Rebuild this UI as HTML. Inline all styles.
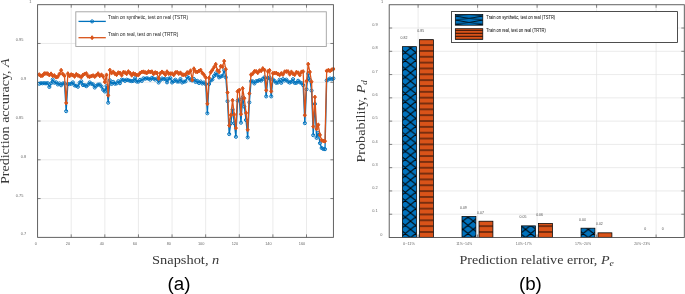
<!DOCTYPE html>
<html><head><meta charset="utf-8"><style>
html,body{margin:0;padding:0;background:#fff;width:685px;height:294px;overflow:hidden}
svg{display:block;will-change:transform}
</style></head><body>
<svg width="685" height="294" viewBox="0 0 685 294">
<g stroke="#e2e2e2" stroke-width="0.7" fill="none"><line x1="71.21" y1="4.7" x2="71.21" y2="237.35"/><line x1="104.83" y1="4.7" x2="104.83" y2="237.35"/><line x1="138.44" y1="4.7" x2="138.44" y2="237.35"/><line x1="172.05" y1="4.7" x2="172.05" y2="237.35"/><line x1="205.67" y1="4.7" x2="205.67" y2="237.35"/><line x1="239.28" y1="4.7" x2="239.28" y2="237.35"/><line x1="272.9" y1="4.7" x2="272.9" y2="237.35"/><line x1="306.51" y1="4.7" x2="306.51" y2="237.35"/><line x1="37.6" y1="198.57" x2="333.4" y2="198.57"/><line x1="37.6" y1="159.8" x2="333.4" y2="159.8"/><line x1="37.6" y1="121.02" x2="333.4" y2="121.02"/><line x1="37.6" y1="82.25" x2="333.4" y2="82.25"/><line x1="37.6" y1="43.47" x2="333.4" y2="43.47"/></g><g stroke="#505050" stroke-width="0.7"><line x1="71.21" y1="237.35" x2="71.21" y2="234.35"/><line x1="71.21" y1="4.7" x2="71.21" y2="7.7"/><line x1="104.83" y1="237.35" x2="104.83" y2="234.35"/><line x1="104.83" y1="4.7" x2="104.83" y2="7.7"/><line x1="138.44" y1="237.35" x2="138.44" y2="234.35"/><line x1="138.44" y1="4.7" x2="138.44" y2="7.7"/><line x1="172.05" y1="237.35" x2="172.05" y2="234.35"/><line x1="172.05" y1="4.7" x2="172.05" y2="7.7"/><line x1="205.67" y1="237.35" x2="205.67" y2="234.35"/><line x1="205.67" y1="4.7" x2="205.67" y2="7.7"/><line x1="239.28" y1="237.35" x2="239.28" y2="234.35"/><line x1="239.28" y1="4.7" x2="239.28" y2="7.7"/><line x1="272.9" y1="237.35" x2="272.9" y2="234.35"/><line x1="272.9" y1="4.7" x2="272.9" y2="7.7"/><line x1="306.51" y1="237.35" x2="306.51" y2="234.35"/><line x1="306.51" y1="4.7" x2="306.51" y2="7.7"/><line x1="37.6" y1="198.57" x2="40.6" y2="198.57"/><line x1="333.4" y1="198.57" x2="330.4" y2="198.57"/><line x1="37.6" y1="159.8" x2="40.6" y2="159.8"/><line x1="333.4" y1="159.8" x2="330.4" y2="159.8"/><line x1="37.6" y1="121.02" x2="40.6" y2="121.02"/><line x1="333.4" y1="121.02" x2="330.4" y2="121.02"/><line x1="37.6" y1="82.25" x2="40.6" y2="82.25"/><line x1="333.4" y1="82.25" x2="330.4" y2="82.25"/><line x1="37.6" y1="43.47" x2="40.6" y2="43.47"/><line x1="333.4" y1="43.47" x2="330.4" y2="43.47"/></g><polyline points="39.28,83.79 40.96,83.23 42.64,83.32 44.32,83.14 46,83.38 47.68,83.11 49.36,86.98 51.05,83.29 52.73,79.5 54.41,82.77 56.09,82.31 57.77,84.46 59.45,83.37 61.13,85.3 62.81,83.48 64.49,83.19 66.17,111.2 67.85,84.1 69.53,84.14 71.21,83.68 72.89,82.38 74.57,85.42 76.26,85.8 77.94,86.77 79.62,82.77 81.3,81.34 82.98,85.05 84.66,85.1 86.34,86.2 88.02,84.7 89.7,82.38 91.38,83.79 93.06,84.4 94.74,87.53 96.42,85.72 98.1,84.59 99.79,84.5 101.47,86.5 103.15,89.8 104.83,91.5 106.51,86 108.19,102.7 109.87,80.3 111.55,84.01 113.23,81.9 114.91,83.72 116.59,83.46 118.27,81.23 119.95,83.22 121.63,79.67 123.31,79.88 125,80.87 126.68,79.68 128.36,80.23 130.04,80.74 131.72,81.18 133.4,80.84 135.08,78.25 136.76,81.59 138.44,81.67 140.12,79.84 141.8,80.92 143.48,78.31 145.16,78.75 146.84,78.24 148.52,78.7 150.21,79.67 151.89,77.8 153.57,78.68 155.25,79.6 156.93,78.57 158.61,82.57 160.29,80.23 161.97,78.47 163.65,79.22 165.33,78.74 167.01,82.37 168.69,78.67 170.37,78.12 172.05,82.5 173.74,81.2 175.42,79.69 177.1,81.55 178.78,81.58 180.46,79.03 182.14,82.53 183.82,81.71 185.5,81.4 187.18,76.9 188.86,78.13 190.54,79.99 192.22,80.5 193.9,79 195.58,82 197.26,80.8 198.95,83 200.63,81.5 202.31,83.5 203.99,82.5 205.67,84.2 207.35,113.3 209.03,84 210.71,80.5 212.39,79.5 214.07,76 215.75,73.3 217.43,74.9 219.11,77.4 220.79,76.5 222.47,75.9 224.16,70.3 225.84,77.4 227.52,101.2 229.2,134.1 230.88,123.2 232.56,109.5 234.24,123.2 235.92,136.8 237.6,100.7 239.28,99.5 240.96,122.7 242.64,97.3 244.32,106.7 246,120 247.69,137.4 249.37,102.4 251.05,81.29 252.73,81.34 254.41,83.48 256.09,81.28 257.77,80.96 259.45,80.08 261.13,80.61 262.81,78.88 264.49,77.3 266.17,96.4 267.85,78 269.53,77.5 271.21,96.4 272.9,79.5 274.58,80.95 276.26,82.83 277.94,82.53 279.62,79.69 281.3,82.84 282.98,79.13 284.66,80.53 286.34,79.61 288.02,81.58 289.7,82.63 291.38,81.79 293.06,79.16 294.74,82.95 296.42,82.88 298.11,80.74 299.79,82.33 301.47,83 303.15,85.2 304.83,123.2 306.51,89.3 308.19,73.6 309.87,80 311.55,90.6 313.23,135.2 314.91,103.9 316.59,137.9 318.27,133 319.95,143.2 321.64,148 323.32,149 325,149.2 326.68,80.4 328.36,79.5 330.04,78.5 331.72,79.2 333.4,78.4" fill="none" stroke="#0072BD" stroke-width="1.3" stroke-linejoin="round"/><g fill="none" stroke="#0072BD" stroke-width="1.0"><circle cx="39.28" cy="83.79" r="1.55"/><circle cx="40.96" cy="83.23" r="1.55"/><circle cx="42.64" cy="83.32" r="1.55"/><circle cx="44.32" cy="83.14" r="1.55"/><circle cx="46" cy="83.38" r="1.55"/><circle cx="47.68" cy="83.11" r="1.55"/><circle cx="49.36" cy="86.98" r="1.55"/><circle cx="51.05" cy="83.29" r="1.55"/><circle cx="52.73" cy="79.5" r="1.55"/><circle cx="54.41" cy="82.77" r="1.55"/><circle cx="56.09" cy="82.31" r="1.55"/><circle cx="57.77" cy="84.46" r="1.55"/><circle cx="59.45" cy="83.37" r="1.55"/><circle cx="61.13" cy="85.3" r="1.55"/><circle cx="62.81" cy="83.48" r="1.55"/><circle cx="64.49" cy="83.19" r="1.55"/><circle cx="66.17" cy="111.2" r="1.55"/><circle cx="67.85" cy="84.1" r="1.55"/><circle cx="69.53" cy="84.14" r="1.55"/><circle cx="71.21" cy="83.68" r="1.55"/><circle cx="72.89" cy="82.38" r="1.55"/><circle cx="74.57" cy="85.42" r="1.55"/><circle cx="76.26" cy="85.8" r="1.55"/><circle cx="77.94" cy="86.77" r="1.55"/><circle cx="79.62" cy="82.77" r="1.55"/><circle cx="81.3" cy="81.34" r="1.55"/><circle cx="82.98" cy="85.05" r="1.55"/><circle cx="84.66" cy="85.1" r="1.55"/><circle cx="86.34" cy="86.2" r="1.55"/><circle cx="88.02" cy="84.7" r="1.55"/><circle cx="89.7" cy="82.38" r="1.55"/><circle cx="91.38" cy="83.79" r="1.55"/><circle cx="93.06" cy="84.4" r="1.55"/><circle cx="94.74" cy="87.53" r="1.55"/><circle cx="96.42" cy="85.72" r="1.55"/><circle cx="98.1" cy="84.59" r="1.55"/><circle cx="99.79" cy="84.5" r="1.55"/><circle cx="101.47" cy="86.5" r="1.55"/><circle cx="103.15" cy="89.8" r="1.55"/><circle cx="104.83" cy="91.5" r="1.55"/><circle cx="106.51" cy="86" r="1.55"/><circle cx="108.19" cy="102.7" r="1.55"/><circle cx="109.87" cy="80.3" r="1.55"/><circle cx="111.55" cy="84.01" r="1.55"/><circle cx="113.23" cy="81.9" r="1.55"/><circle cx="114.91" cy="83.72" r="1.55"/><circle cx="116.59" cy="83.46" r="1.55"/><circle cx="118.27" cy="81.23" r="1.55"/><circle cx="119.95" cy="83.22" r="1.55"/><circle cx="121.63" cy="79.67" r="1.55"/><circle cx="123.31" cy="79.88" r="1.55"/><circle cx="125" cy="80.87" r="1.55"/><circle cx="126.68" cy="79.68" r="1.55"/><circle cx="128.36" cy="80.23" r="1.55"/><circle cx="130.04" cy="80.74" r="1.55"/><circle cx="131.72" cy="81.18" r="1.55"/><circle cx="133.4" cy="80.84" r="1.55"/><circle cx="135.08" cy="78.25" r="1.55"/><circle cx="136.76" cy="81.59" r="1.55"/><circle cx="138.44" cy="81.67" r="1.55"/><circle cx="140.12" cy="79.84" r="1.55"/><circle cx="141.8" cy="80.92" r="1.55"/><circle cx="143.48" cy="78.31" r="1.55"/><circle cx="145.16" cy="78.75" r="1.55"/><circle cx="146.84" cy="78.24" r="1.55"/><circle cx="148.52" cy="78.7" r="1.55"/><circle cx="150.21" cy="79.67" r="1.55"/><circle cx="151.89" cy="77.8" r="1.55"/><circle cx="153.57" cy="78.68" r="1.55"/><circle cx="155.25" cy="79.6" r="1.55"/><circle cx="156.93" cy="78.57" r="1.55"/><circle cx="158.61" cy="82.57" r="1.55"/><circle cx="160.29" cy="80.23" r="1.55"/><circle cx="161.97" cy="78.47" r="1.55"/><circle cx="163.65" cy="79.22" r="1.55"/><circle cx="165.33" cy="78.74" r="1.55"/><circle cx="167.01" cy="82.37" r="1.55"/><circle cx="168.69" cy="78.67" r="1.55"/><circle cx="170.37" cy="78.12" r="1.55"/><circle cx="172.05" cy="82.5" r="1.55"/><circle cx="173.74" cy="81.2" r="1.55"/><circle cx="175.42" cy="79.69" r="1.55"/><circle cx="177.1" cy="81.55" r="1.55"/><circle cx="178.78" cy="81.58" r="1.55"/><circle cx="180.46" cy="79.03" r="1.55"/><circle cx="182.14" cy="82.53" r="1.55"/><circle cx="183.82" cy="81.71" r="1.55"/><circle cx="185.5" cy="81.4" r="1.55"/><circle cx="187.18" cy="76.9" r="1.55"/><circle cx="188.86" cy="78.13" r="1.55"/><circle cx="190.54" cy="79.99" r="1.55"/><circle cx="192.22" cy="80.5" r="1.55"/><circle cx="193.9" cy="79" r="1.55"/><circle cx="195.58" cy="82" r="1.55"/><circle cx="197.26" cy="80.8" r="1.55"/><circle cx="198.95" cy="83" r="1.55"/><circle cx="200.63" cy="81.5" r="1.55"/><circle cx="202.31" cy="83.5" r="1.55"/><circle cx="203.99" cy="82.5" r="1.55"/><circle cx="205.67" cy="84.2" r="1.55"/><circle cx="207.35" cy="113.3" r="1.55"/><circle cx="209.03" cy="84" r="1.55"/><circle cx="210.71" cy="80.5" r="1.55"/><circle cx="212.39" cy="79.5" r="1.55"/><circle cx="214.07" cy="76" r="1.55"/><circle cx="215.75" cy="73.3" r="1.55"/><circle cx="217.43" cy="74.9" r="1.55"/><circle cx="219.11" cy="77.4" r="1.55"/><circle cx="220.79" cy="76.5" r="1.55"/><circle cx="222.47" cy="75.9" r="1.55"/><circle cx="224.16" cy="70.3" r="1.55"/><circle cx="225.84" cy="77.4" r="1.55"/><circle cx="227.52" cy="101.2" r="1.55"/><circle cx="229.2" cy="134.1" r="1.55"/><circle cx="230.88" cy="123.2" r="1.55"/><circle cx="232.56" cy="109.5" r="1.55"/><circle cx="234.24" cy="123.2" r="1.55"/><circle cx="235.92" cy="136.8" r="1.55"/><circle cx="237.6" cy="100.7" r="1.55"/><circle cx="239.28" cy="99.5" r="1.55"/><circle cx="240.96" cy="122.7" r="1.55"/><circle cx="242.64" cy="97.3" r="1.55"/><circle cx="244.32" cy="106.7" r="1.55"/><circle cx="246" cy="120" r="1.55"/><circle cx="247.69" cy="137.4" r="1.55"/><circle cx="249.37" cy="102.4" r="1.55"/><circle cx="251.05" cy="81.29" r="1.55"/><circle cx="252.73" cy="81.34" r="1.55"/><circle cx="254.41" cy="83.48" r="1.55"/><circle cx="256.09" cy="81.28" r="1.55"/><circle cx="257.77" cy="80.96" r="1.55"/><circle cx="259.45" cy="80.08" r="1.55"/><circle cx="261.13" cy="80.61" r="1.55"/><circle cx="262.81" cy="78.88" r="1.55"/><circle cx="264.49" cy="77.3" r="1.55"/><circle cx="266.17" cy="96.4" r="1.55"/><circle cx="267.85" cy="78" r="1.55"/><circle cx="269.53" cy="77.5" r="1.55"/><circle cx="271.21" cy="96.4" r="1.55"/><circle cx="272.9" cy="79.5" r="1.55"/><circle cx="274.58" cy="80.95" r="1.55"/><circle cx="276.26" cy="82.83" r="1.55"/><circle cx="277.94" cy="82.53" r="1.55"/><circle cx="279.62" cy="79.69" r="1.55"/><circle cx="281.3" cy="82.84" r="1.55"/><circle cx="282.98" cy="79.13" r="1.55"/><circle cx="284.66" cy="80.53" r="1.55"/><circle cx="286.34" cy="79.61" r="1.55"/><circle cx="288.02" cy="81.58" r="1.55"/><circle cx="289.7" cy="82.63" r="1.55"/><circle cx="291.38" cy="81.79" r="1.55"/><circle cx="293.06" cy="79.16" r="1.55"/><circle cx="294.74" cy="82.95" r="1.55"/><circle cx="296.42" cy="82.88" r="1.55"/><circle cx="298.11" cy="80.74" r="1.55"/><circle cx="299.79" cy="82.33" r="1.55"/><circle cx="301.47" cy="83" r="1.55"/><circle cx="303.15" cy="85.2" r="1.55"/><circle cx="304.83" cy="123.2" r="1.55"/><circle cx="306.51" cy="89.3" r="1.55"/><circle cx="308.19" cy="73.6" r="1.55"/><circle cx="309.87" cy="80" r="1.55"/><circle cx="311.55" cy="90.6" r="1.55"/><circle cx="313.23" cy="135.2" r="1.55"/><circle cx="314.91" cy="103.9" r="1.55"/><circle cx="316.59" cy="137.9" r="1.55"/><circle cx="318.27" cy="133" r="1.55"/><circle cx="319.95" cy="143.2" r="1.55"/><circle cx="321.64" cy="148" r="1.55"/><circle cx="323.32" cy="149" r="1.55"/><circle cx="325" cy="149.2" r="1.55"/><circle cx="326.68" cy="80.4" r="1.55"/><circle cx="328.36" cy="79.5" r="1.55"/><circle cx="330.04" cy="78.5" r="1.55"/><circle cx="331.72" cy="79.2" r="1.55"/><circle cx="333.4" cy="78.4" r="1.55"/></g><polyline points="39.28,74.63 40.96,75.87 42.64,75.44 44.32,73.62 46,73.54 47.68,73.67 49.36,75.01 51.05,73.87 52.73,75.78 54.41,75.59 56.09,77.11 57.77,76.66 59.45,73.95 61.13,70.2 62.81,74.09 64.49,75.83 66.17,102.9 67.85,73.63 69.53,75.99 71.21,74.59 72.89,75.12 74.57,76.42 76.26,74.33 77.94,75.4 79.62,76.17 81.3,77.12 82.98,74.99 84.66,73.98 86.34,73.55 88.02,76.31 89.7,76.73 91.38,76.04 93.06,75.6 94.74,76.59 96.42,75.2 98.1,73.63 99.79,75.86 101.47,74.8 103.15,76.5 104.83,82 106.51,74.9 108.19,95.3 109.87,70.1 111.55,73.09 113.23,71.91 114.91,73.69 116.59,74.71 118.27,72.66 119.95,72.96 121.63,75.24 123.31,72.27 125,72.49 126.68,73.84 128.36,71.62 130.04,73 131.72,75.22 133.4,73.56 135.08,74.17 136.76,75.02 138.44,74.92 140.12,73.09 141.8,71.99 143.48,71.84 145.16,72.39 146.84,72.89 148.52,71.6 150.21,71.99 151.89,71.7 153.57,73.93 155.25,72.56 156.93,72.98 158.61,78.5 160.29,73.37 161.97,71.93 163.65,72.9 165.33,74.75 167.01,71.69 168.69,73.61 170.37,73.66 172.05,73.61 173.74,74.88 175.42,72.59 177.1,72.23 178.78,73.62 180.46,72.85 182.14,74.68 183.82,74.84 185.5,74.71 187.18,72.46 188.86,72.95 190.54,70.71 192.22,80 193.9,68.7 195.58,71.5 197.26,72 198.95,71 200.63,70 202.31,73 203.99,74.8 205.67,77.4 207.35,103.8 209.03,77.9 210.71,72.3 212.39,70 214.07,67.2 215.75,64.2 217.43,70.3 219.11,71.8 220.79,66.2 222.47,66.7 224.16,61.1 225.84,69.3 227.52,92.5 229.2,125.4 230.88,115.1 232.56,100.3 234.24,114.5 235.92,128.1 237.6,91.4 239.28,90.1 240.96,114.2 242.64,88.4 244.32,98.2 246,112.9 247.69,129.8 249.37,93.5 251.05,74.64 252.73,73.67 254.41,71.36 256.09,71.35 257.77,72.81 259.45,70.64 261.13,70.86 262.81,68.5 264.49,70 266.17,90.3 267.85,71.5 269.53,70.3 271.21,91.3 272.9,73.3 274.58,73.02 276.26,73.12 277.94,73.96 279.62,74.88 281.3,73.43 282.98,74.49 284.66,71.76 286.34,71.58 288.02,71.58 289.7,74.28 291.38,71.89 293.06,73.81 294.74,74.65 296.42,72.13 298.11,72.81 299.79,75.06 301.47,71.91 303.15,71.6 304.83,115.2 306.51,81.1 308.19,64.1 309.87,72 311.55,81.8 313.23,126.5 314.91,97.1 316.59,128.9 318.27,124.8 319.95,134.9 321.64,140.2 323.32,141 325,141.2 326.68,70.9 328.36,70.2 330.04,70.8 331.72,69.8 333.4,69" fill="none" stroke="#D95319" stroke-width="1.3" stroke-linejoin="round"/><g fill="#D95319" stroke="#D95319" stroke-width="1.0"><path d="M39.28 72.63L40.83 74.63L39.28 76.63L37.73 74.63Z"/><path d="M40.96 73.87L42.51 75.87L40.96 77.87L39.41 75.87Z"/><path d="M42.64 73.44L44.19 75.44L42.64 77.44L41.09 75.44Z"/><path d="M44.32 71.62L45.87 73.62L44.32 75.62L42.77 73.62Z"/><path d="M46 71.54L47.55 73.54L46 75.54L44.45 73.54Z"/><path d="M47.68 71.67L49.23 73.67L47.68 75.67L46.13 73.67Z"/><path d="M49.36 73.01L50.91 75.01L49.36 77.01L47.81 75.01Z"/><path d="M51.05 71.87L52.6 73.87L51.05 75.87L49.5 73.87Z"/><path d="M52.73 73.78L54.28 75.78L52.73 77.78L51.18 75.78Z"/><path d="M54.41 73.59L55.96 75.59L54.41 77.59L52.86 75.59Z"/><path d="M56.09 75.11L57.64 77.11L56.09 79.11L54.54 77.11Z"/><path d="M57.77 74.66L59.32 76.66L57.77 78.66L56.22 76.66Z"/><path d="M59.45 71.95L61 73.95L59.45 75.95L57.9 73.95Z"/><path d="M61.13 68.2L62.68 70.2L61.13 72.2L59.58 70.2Z"/><path d="M62.81 72.09L64.36 74.09L62.81 76.09L61.26 74.09Z"/><path d="M64.49 73.83L66.04 75.83L64.49 77.83L62.94 75.83Z"/><path d="M66.17 100.9L67.72 102.9L66.17 104.9L64.62 102.9Z"/><path d="M67.85 71.63L69.4 73.63L67.85 75.63L66.3 73.63Z"/><path d="M69.53 73.99L71.08 75.99L69.53 77.99L67.98 75.99Z"/><path d="M71.21 72.59L72.76 74.59L71.21 76.59L69.66 74.59Z"/><path d="M72.89 73.12L74.44 75.12L72.89 77.12L71.34 75.12Z"/><path d="M74.57 74.42L76.12 76.42L74.57 78.42L73.02 76.42Z"/><path d="M76.26 72.33L77.81 74.33L76.26 76.33L74.71 74.33Z"/><path d="M77.94 73.4L79.49 75.4L77.94 77.4L76.39 75.4Z"/><path d="M79.62 74.17L81.17 76.17L79.62 78.17L78.07 76.17Z"/><path d="M81.3 75.12L82.85 77.12L81.3 79.12L79.75 77.12Z"/><path d="M82.98 72.99L84.53 74.99L82.98 76.99L81.43 74.99Z"/><path d="M84.66 71.98L86.21 73.98L84.66 75.98L83.11 73.98Z"/><path d="M86.34 71.55L87.89 73.55L86.34 75.55L84.79 73.55Z"/><path d="M88.02 74.31L89.57 76.31L88.02 78.31L86.47 76.31Z"/><path d="M89.7 74.73L91.25 76.73L89.7 78.73L88.15 76.73Z"/><path d="M91.38 74.04L92.93 76.04L91.38 78.04L89.83 76.04Z"/><path d="M93.06 73.6L94.61 75.6L93.06 77.6L91.51 75.6Z"/><path d="M94.74 74.59L96.29 76.59L94.74 78.59L93.19 76.59Z"/><path d="M96.42 73.2L97.97 75.2L96.42 77.2L94.87 75.2Z"/><path d="M98.1 71.63L99.65 73.63L98.1 75.63L96.55 73.63Z"/><path d="M99.79 73.86L101.34 75.86L99.79 77.86L98.24 75.86Z"/><path d="M101.47 72.8L103.02 74.8L101.47 76.8L99.92 74.8Z"/><path d="M103.15 74.5L104.7 76.5L103.15 78.5L101.6 76.5Z"/><path d="M104.83 80L106.38 82L104.83 84L103.28 82Z"/><path d="M106.51 72.9L108.06 74.9L106.51 76.9L104.96 74.9Z"/><path d="M108.19 93.3L109.74 95.3L108.19 97.3L106.64 95.3Z"/><path d="M109.87 68.1L111.42 70.1L109.87 72.1L108.32 70.1Z"/><path d="M111.55 71.09L113.1 73.09L111.55 75.09L110 73.09Z"/><path d="M113.23 69.91L114.78 71.91L113.23 73.91L111.68 71.91Z"/><path d="M114.91 71.69L116.46 73.69L114.91 75.69L113.36 73.69Z"/><path d="M116.59 72.71L118.14 74.71L116.59 76.71L115.04 74.71Z"/><path d="M118.27 70.66L119.82 72.66L118.27 74.66L116.72 72.66Z"/><path d="M119.95 70.96L121.5 72.96L119.95 74.96L118.4 72.96Z"/><path d="M121.63 73.24L123.18 75.24L121.63 77.24L120.08 75.24Z"/><path d="M123.31 70.27L124.86 72.27L123.31 74.27L121.76 72.27Z"/><path d="M125 70.49L126.55 72.49L125 74.49L123.45 72.49Z"/><path d="M126.68 71.84L128.23 73.84L126.68 75.84L125.13 73.84Z"/><path d="M128.36 69.62L129.91 71.62L128.36 73.62L126.81 71.62Z"/><path d="M130.04 71L131.59 73L130.04 75L128.49 73Z"/><path d="M131.72 73.22L133.27 75.22L131.72 77.22L130.17 75.22Z"/><path d="M133.4 71.56L134.95 73.56L133.4 75.56L131.85 73.56Z"/><path d="M135.08 72.17L136.63 74.17L135.08 76.17L133.53 74.17Z"/><path d="M136.76 73.02L138.31 75.02L136.76 77.02L135.21 75.02Z"/><path d="M138.44 72.92L139.99 74.92L138.44 76.92L136.89 74.92Z"/><path d="M140.12 71.09L141.67 73.09L140.12 75.09L138.57 73.09Z"/><path d="M141.8 69.99L143.35 71.99L141.8 73.99L140.25 71.99Z"/><path d="M143.48 69.84L145.03 71.84L143.48 73.84L141.93 71.84Z"/><path d="M145.16 70.39L146.71 72.39L145.16 74.39L143.61 72.39Z"/><path d="M146.84 70.89L148.39 72.89L146.84 74.89L145.29 72.89Z"/><path d="M148.52 69.6L150.07 71.6L148.52 73.6L146.97 71.6Z"/><path d="M150.21 69.99L151.76 71.99L150.21 73.99L148.66 71.99Z"/><path d="M151.89 69.7L153.44 71.7L151.89 73.7L150.34 71.7Z"/><path d="M153.57 71.93L155.12 73.93L153.57 75.93L152.02 73.93Z"/><path d="M155.25 70.56L156.8 72.56L155.25 74.56L153.7 72.56Z"/><path d="M156.93 70.98L158.48 72.98L156.93 74.98L155.38 72.98Z"/><path d="M158.61 76.5L160.16 78.5L158.61 80.5L157.06 78.5Z"/><path d="M160.29 71.37L161.84 73.37L160.29 75.37L158.74 73.37Z"/><path d="M161.97 69.93L163.52 71.93L161.97 73.93L160.42 71.93Z"/><path d="M163.65 70.9L165.2 72.9L163.65 74.9L162.1 72.9Z"/><path d="M165.33 72.75L166.88 74.75L165.33 76.75L163.78 74.75Z"/><path d="M167.01 69.69L168.56 71.69L167.01 73.69L165.46 71.69Z"/><path d="M168.69 71.61L170.24 73.61L168.69 75.61L167.14 73.61Z"/><path d="M170.37 71.66L171.92 73.66L170.37 75.66L168.82 73.66Z"/><path d="M172.05 71.61L173.6 73.61L172.05 75.61L170.5 73.61Z"/><path d="M173.74 72.88L175.29 74.88L173.74 76.88L172.19 74.88Z"/><path d="M175.42 70.59L176.97 72.59L175.42 74.59L173.87 72.59Z"/><path d="M177.1 70.23L178.65 72.23L177.1 74.23L175.55 72.23Z"/><path d="M178.78 71.62L180.33 73.62L178.78 75.62L177.23 73.62Z"/><path d="M180.46 70.85L182.01 72.85L180.46 74.85L178.91 72.85Z"/><path d="M182.14 72.68L183.69 74.68L182.14 76.68L180.59 74.68Z"/><path d="M183.82 72.84L185.37 74.84L183.82 76.84L182.27 74.84Z"/><path d="M185.5 72.71L187.05 74.71L185.5 76.71L183.95 74.71Z"/><path d="M187.18 70.46L188.73 72.46L187.18 74.46L185.63 72.46Z"/><path d="M188.86 70.95L190.41 72.95L188.86 74.95L187.31 72.95Z"/><path d="M190.54 68.71L192.09 70.71L190.54 72.71L188.99 70.71Z"/><path d="M192.22 78L193.77 80L192.22 82L190.67 80Z"/><path d="M193.9 66.7L195.45 68.7L193.9 70.7L192.35 68.7Z"/><path d="M195.58 69.5L197.13 71.5L195.58 73.5L194.03 71.5Z"/><path d="M197.26 70L198.81 72L197.26 74L195.71 72Z"/><path d="M198.95 69L200.5 71L198.95 73L197.4 71Z"/><path d="M200.63 68L202.18 70L200.63 72L199.08 70Z"/><path d="M202.31 71L203.86 73L202.31 75L200.76 73Z"/><path d="M203.99 72.8L205.54 74.8L203.99 76.8L202.44 74.8Z"/><path d="M205.67 75.4L207.22 77.4L205.67 79.4L204.12 77.4Z"/><path d="M207.35 101.8L208.9 103.8L207.35 105.8L205.8 103.8Z"/><path d="M209.03 75.9L210.58 77.9L209.03 79.9L207.48 77.9Z"/><path d="M210.71 70.3L212.26 72.3L210.71 74.3L209.16 72.3Z"/><path d="M212.39 68L213.94 70L212.39 72L210.84 70Z"/><path d="M214.07 65.2L215.62 67.2L214.07 69.2L212.52 67.2Z"/><path d="M215.75 62.2L217.3 64.2L215.75 66.2L214.2 64.2Z"/><path d="M217.43 68.3L218.98 70.3L217.43 72.3L215.88 70.3Z"/><path d="M219.11 69.8L220.66 71.8L219.11 73.8L217.56 71.8Z"/><path d="M220.79 64.2L222.34 66.2L220.79 68.2L219.24 66.2Z"/><path d="M222.47 64.7L224.02 66.7L222.47 68.7L220.92 66.7Z"/><path d="M224.16 59.1L225.71 61.1L224.16 63.1L222.61 61.1Z"/><path d="M225.84 67.3L227.39 69.3L225.84 71.3L224.29 69.3Z"/><path d="M227.52 90.5L229.07 92.5L227.52 94.5L225.97 92.5Z"/><path d="M229.2 123.4L230.75 125.4L229.2 127.4L227.65 125.4Z"/><path d="M230.88 113.1L232.43 115.1L230.88 117.1L229.33 115.1Z"/><path d="M232.56 98.3L234.11 100.3L232.56 102.3L231.01 100.3Z"/><path d="M234.24 112.5L235.79 114.5L234.24 116.5L232.69 114.5Z"/><path d="M235.92 126.1L237.47 128.1L235.92 130.1L234.37 128.1Z"/><path d="M237.6 89.4L239.15 91.4L237.6 93.4L236.05 91.4Z"/><path d="M239.28 88.1L240.83 90.1L239.28 92.1L237.73 90.1Z"/><path d="M240.96 112.2L242.51 114.2L240.96 116.2L239.41 114.2Z"/><path d="M242.64 86.4L244.19 88.4L242.64 90.4L241.09 88.4Z"/><path d="M244.32 96.2L245.87 98.2L244.32 100.2L242.77 98.2Z"/><path d="M246 110.9L247.55 112.9L246 114.9L244.45 112.9Z"/><path d="M247.69 127.8L249.24 129.8L247.69 131.8L246.14 129.8Z"/><path d="M249.37 91.5L250.92 93.5L249.37 95.5L247.82 93.5Z"/><path d="M251.05 72.64L252.6 74.64L251.05 76.64L249.5 74.64Z"/><path d="M252.73 71.67L254.28 73.67L252.73 75.67L251.18 73.67Z"/><path d="M254.41 69.36L255.96 71.36L254.41 73.36L252.86 71.36Z"/><path d="M256.09 69.35L257.64 71.35L256.09 73.35L254.54 71.35Z"/><path d="M257.77 70.81L259.32 72.81L257.77 74.81L256.22 72.81Z"/><path d="M259.45 68.64L261 70.64L259.45 72.64L257.9 70.64Z"/><path d="M261.13 68.86L262.68 70.86L261.13 72.86L259.58 70.86Z"/><path d="M262.81 66.5L264.36 68.5L262.81 70.5L261.26 68.5Z"/><path d="M264.49 68L266.04 70L264.49 72L262.94 70Z"/><path d="M266.17 88.3L267.72 90.3L266.17 92.3L264.62 90.3Z"/><path d="M267.85 69.5L269.4 71.5L267.85 73.5L266.3 71.5Z"/><path d="M269.53 68.3L271.08 70.3L269.53 72.3L267.98 70.3Z"/><path d="M271.21 89.3L272.76 91.3L271.21 93.3L269.66 91.3Z"/><path d="M272.9 71.3L274.45 73.3L272.9 75.3L271.35 73.3Z"/><path d="M274.58 71.02L276.13 73.02L274.58 75.02L273.03 73.02Z"/><path d="M276.26 71.12L277.81 73.12L276.26 75.12L274.71 73.12Z"/><path d="M277.94 71.96L279.49 73.96L277.94 75.96L276.39 73.96Z"/><path d="M279.62 72.88L281.17 74.88L279.62 76.88L278.07 74.88Z"/><path d="M281.3 71.43L282.85 73.43L281.3 75.43L279.75 73.43Z"/><path d="M282.98 72.49L284.53 74.49L282.98 76.49L281.43 74.49Z"/><path d="M284.66 69.76L286.21 71.76L284.66 73.76L283.11 71.76Z"/><path d="M286.34 69.58L287.89 71.58L286.34 73.58L284.79 71.58Z"/><path d="M288.02 69.58L289.57 71.58L288.02 73.58L286.47 71.58Z"/><path d="M289.7 72.28L291.25 74.28L289.7 76.28L288.15 74.28Z"/><path d="M291.38 69.89L292.93 71.89L291.38 73.89L289.83 71.89Z"/><path d="M293.06 71.81L294.61 73.81L293.06 75.81L291.51 73.81Z"/><path d="M294.74 72.65L296.29 74.65L294.74 76.65L293.19 74.65Z"/><path d="M296.42 70.13L297.97 72.13L296.42 74.13L294.87 72.13Z"/><path d="M298.11 70.81L299.66 72.81L298.11 74.81L296.56 72.81Z"/><path d="M299.79 73.06L301.34 75.06L299.79 77.06L298.24 75.06Z"/><path d="M301.47 69.91L303.02 71.91L301.47 73.91L299.92 71.91Z"/><path d="M303.15 69.6L304.7 71.6L303.15 73.6L301.6 71.6Z"/><path d="M304.83 113.2L306.38 115.2L304.83 117.2L303.28 115.2Z"/><path d="M306.51 79.1L308.06 81.1L306.51 83.1L304.96 81.1Z"/><path d="M308.19 62.1L309.74 64.1L308.19 66.1L306.64 64.1Z"/><path d="M309.87 70L311.42 72L309.87 74L308.32 72Z"/><path d="M311.55 79.8L313.1 81.8L311.55 83.8L310 81.8Z"/><path d="M313.23 124.5L314.78 126.5L313.23 128.5L311.68 126.5Z"/><path d="M314.91 95.1L316.46 97.1L314.91 99.1L313.36 97.1Z"/><path d="M316.59 126.9L318.14 128.9L316.59 130.9L315.04 128.9Z"/><path d="M318.27 122.8L319.82 124.8L318.27 126.8L316.72 124.8Z"/><path d="M319.95 132.9L321.5 134.9L319.95 136.9L318.4 134.9Z"/><path d="M321.64 138.2L323.19 140.2L321.64 142.2L320.09 140.2Z"/><path d="M323.32 139L324.87 141L323.32 143L321.77 141Z"/><path d="M325 139.2L326.55 141.2L325 143.2L323.45 141.2Z"/><path d="M326.68 68.9L328.23 70.9L326.68 72.9L325.13 70.9Z"/><path d="M328.36 68.2L329.91 70.2L328.36 72.2L326.81 70.2Z"/><path d="M330.04 68.8L331.59 70.8L330.04 72.8L328.49 70.8Z"/><path d="M331.72 67.8L333.27 69.8L331.72 71.8L330.17 69.8Z"/><path d="M333.4 67L334.95 69L333.4 71L331.85 69Z"/></g><rect x="37.6" y="4.7" width="295.8" height="232.65" fill="none" stroke="#505050" stroke-width="0.9"/><g font-family="Liberation Sans, sans-serif" font-size="3.9" fill="#6a6a6a" text-anchor="middle"><text x="35.8" y="245">0</text><text x="68" y="245">20</text><text x="101.8" y="245">40</text><text x="135" y="245">60</text><text x="168.8" y="245">80</text><text x="201.2" y="245">100</text><text x="234.9" y="245">120</text><text x="268.4" y="245">140</text><text x="302" y="245">160</text><text x="23.5" y="235.4">0.7</text><text x="19.6" y="196.5">0.75</text><text x="23.5" y="157.8">0.8</text><text x="19.6" y="119">0.85</text><text x="23.5" y="80.2">0.9</text><text x="19.6" y="41.4">0.95</text><text x="30.3" y="2.7">1</text></g><rect x="75.8" y="11.8" width="250.5" height="34.7" fill="#fff" stroke="#a0a0a0" stroke-width="0.9"/><line x1="78.5" y1="21.4" x2="105.8" y2="21.4" stroke="#0072BD" stroke-width="1.3"/><circle cx="92.1" cy="21.4" r="1.55" fill="none" stroke="#0072BD" stroke-width="1.0"/><line x1="78.5" y1="37.7" x2="105.8" y2="37.7" stroke="#D95319" stroke-width="1.3"/><path d="M92.1 35.7L93.64999999999999 37.7L92.1 39.7L90.55 37.7Z" fill="#D95319" stroke="#D95319" stroke-width="1.0"/><g font-family="Liberation Sans, sans-serif" font-size="5.0" fill="#2a2a2a" stroke="#2a2a2a" stroke-width="0.02"><text x="107.95" y="19.3" textLength="80.2" lengthAdjust="spacingAndGlyphs">Train on synthetic, test on real (TSTR)</text><text x="107.95" y="35.8" textLength="70.3" lengthAdjust="spacingAndGlyphs">Train on real, test on real (TRTR)</text></g><g stroke="#e2e2e2" stroke-width="0.7" fill="none"><line x1="418.1" y1="4.75" x2="418.1" y2="237.5"/><line x1="477.6" y1="4.75" x2="477.6" y2="237.5"/><line x1="537.1" y1="4.75" x2="537.1" y2="237.5"/><line x1="596.6" y1="4.75" x2="596.6" y2="237.5"/><line x1="656.1" y1="4.75" x2="656.1" y2="237.5"/><line x1="389.2" y1="214.22" x2="684.3" y2="214.22"/><line x1="389.2" y1="190.95" x2="684.3" y2="190.95"/><line x1="389.2" y1="167.67" x2="684.3" y2="167.67"/><line x1="389.2" y1="144.4" x2="684.3" y2="144.4"/><line x1="389.2" y1="121.12" x2="684.3" y2="121.12"/><line x1="389.2" y1="97.85" x2="684.3" y2="97.85"/><line x1="389.2" y1="74.57" x2="684.3" y2="74.57"/><line x1="389.2" y1="51.3" x2="684.3" y2="51.3"/><line x1="389.2" y1="28.03" x2="684.3" y2="28.03"/></g><g stroke="#505050" stroke-width="0.7"><line x1="418.1" y1="237.5" x2="418.1" y2="234.5"/><line x1="418.1" y1="4.75" x2="418.1" y2="7.75"/><line x1="477.6" y1="237.5" x2="477.6" y2="234.5"/><line x1="477.6" y1="4.75" x2="477.6" y2="7.75"/><line x1="537.1" y1="237.5" x2="537.1" y2="234.5"/><line x1="537.1" y1="4.75" x2="537.1" y2="7.75"/><line x1="596.6" y1="237.5" x2="596.6" y2="234.5"/><line x1="596.6" y1="4.75" x2="596.6" y2="7.75"/><line x1="656.1" y1="237.5" x2="656.1" y2="234.5"/><line x1="656.1" y1="4.75" x2="656.1" y2="7.75"/><line x1="389.2" y1="214.22" x2="392.2" y2="214.22"/><line x1="684.3" y1="214.22" x2="681.3" y2="214.22"/><line x1="389.2" y1="190.95" x2="392.2" y2="190.95"/><line x1="684.3" y1="190.95" x2="681.3" y2="190.95"/><line x1="389.2" y1="167.67" x2="392.2" y2="167.67"/><line x1="684.3" y1="167.67" x2="681.3" y2="167.67"/><line x1="389.2" y1="144.4" x2="392.2" y2="144.4"/><line x1="684.3" y1="144.4" x2="681.3" y2="144.4"/><line x1="389.2" y1="121.12" x2="392.2" y2="121.12"/><line x1="684.3" y1="121.12" x2="681.3" y2="121.12"/><line x1="389.2" y1="97.85" x2="392.2" y2="97.85"/><line x1="684.3" y1="97.85" x2="681.3" y2="97.85"/><line x1="389.2" y1="74.57" x2="392.2" y2="74.57"/><line x1="684.3" y1="74.57" x2="681.3" y2="74.57"/><line x1="389.2" y1="51.3" x2="392.2" y2="51.3"/><line x1="684.3" y1="51.3" x2="681.3" y2="51.3"/><line x1="389.2" y1="28.03" x2="392.2" y2="28.03"/><line x1="684.3" y1="28.03" x2="681.3" y2="28.03"/></g><defs><pattern id="xh" patternUnits="userSpaceOnUse" width="10.46" height="8.236" x="410.5" y="48.2"><rect width="10.46" height="8.236" fill="#0072BD"/><path d="M0 0L10.46 8.236M0 -8.236L10.46 0M0 8.236L10.46 16.472M0 8.236L10.46 0M0 0L10.46 -8.236M0 16.472L10.46 8.236" stroke="#000" stroke-width="0.95"/></pattern><pattern id="hz" patternUnits="userSpaceOnUse" width="20" height="5.84" x="0" y="42.18"><rect width="20" height="5.84" fill="#D95319"/><path d="M-1 2.92H21" stroke="#1a0a04" stroke-width="1.0"/></pattern></defs><rect x="402.5" y="46.65" width="13.9" height="190.85" fill="url(#xh)" stroke="#000" stroke-width="0.75"/><rect x="419.5" y="39.66" width="13.9" height="197.84" fill="url(#hz)" stroke="#000" stroke-width="0.75"/><rect x="462" y="216.55" width="13.9" height="20.95" fill="url(#xh)" stroke="#000" stroke-width="0.75"/><rect x="479" y="221.21" width="13.9" height="16.29" fill="url(#hz)" stroke="#000" stroke-width="0.75"/><rect x="521.5" y="225.86" width="13.9" height="11.64" fill="url(#xh)" stroke="#000" stroke-width="0.75"/><rect x="538.5" y="223.53" width="13.9" height="13.97" fill="url(#hz)" stroke="#000" stroke-width="0.75"/><rect x="581" y="228.19" width="13.9" height="9.31" fill="url(#xh)" stroke="#000" stroke-width="0.75"/><rect x="598" y="232.84" width="13.9" height="4.66" fill="url(#hz)" stroke="#000" stroke-width="0.75"/><rect x="389.2" y="4.75" width="295.1" height="232.75" fill="none" stroke="#505050" stroke-width="0.9"/><g font-family="Liberation Sans, sans-serif" font-size="3.5" fill="#505050" text-anchor="middle"><text x="404" y="38.7">0.82</text><text x="420.7" y="31.9">0.85</text><text x="463.4" y="208.7">0.09</text><text x="480.5" y="213.9">0.07</text><text x="523" y="218.3">0.05</text><text x="539.6" y="215.8">0.06</text><text x="582.4" y="220.7">0.04</text><text x="599.4" y="225.4">0.02</text><text x="645.3" y="229.9">0</text><text x="662.7" y="229.9">0</text></g><g font-family="Liberation Sans, sans-serif" font-size="3.9" fill="#6a6a6a" text-anchor="middle"><text x="409" y="245" textLength="12.0" lengthAdjust="spacingAndGlyphs">0~11%</text><text x="464.2" y="245" textLength="16.1" lengthAdjust="spacingAndGlyphs">11%~14%</text><text x="523.8" y="245" textLength="16.1" lengthAdjust="spacingAndGlyphs">14%~17%</text><text x="583" y="245" textLength="16.1" lengthAdjust="spacingAndGlyphs">17%~20%</text><text x="642.2" y="245" textLength="16.1" lengthAdjust="spacingAndGlyphs">20%~23%</text><text x="381.4" y="235.6">0</text><text x="374.9" y="212.32">0.1</text><text x="374.9" y="189.05">0.2</text><text x="374.9" y="165.77">0.3</text><text x="374.9" y="142.5">0.4</text><text x="374.9" y="119.23">0.5</text><text x="374.9" y="95.95">0.6</text><text x="374.9" y="72.67">0.7</text><text x="374.9" y="49.4">0.8</text><text x="374.9" y="26.13">0.9</text><text x="382.0" y="2.85">1</text></g><rect x="451.4" y="11.6" width="226.1" height="30.8" fill="#fff" stroke="#222" stroke-width="0.8"/><defs><pattern id="lxh" patternUnits="userSpaceOnUse" width="27.5" height="4.1" x="455.3" y="16.15">
<rect width="27.5" height="4.1" fill="#0072BD"/>
<path d="M0 0L27.5 4.1M0 -4.1L27.5 0M0 4.1L27.5 8.2M0 4.1L27.5 0M0 0L27.5 -4.1M0 8.2L27.5 4.1" stroke="#000" stroke-width="0.75"/></pattern>
<pattern id="lhz" patternUnits="userSpaceOnUse" width="27.5" height="3.0" x="455.3" y="28.8">
<rect width="27.5" height="3.0" fill="#D95319"/><path d="M0 1.5H27.5" stroke="#1a0a04" stroke-width="0.9"/></pattern></defs><rect x="455.3" y="14.4" width="27.5" height="10.8" fill="url(#lxh)" stroke="#000" stroke-width="0.7"/><rect x="455.3" y="28.7" width="27.5" height="10.7" fill="url(#lhz)" stroke="#000" stroke-width="0.7"/><g font-family="Liberation Sans, sans-serif" font-size="4.5" fill="#222" stroke="#222" stroke-width="0.05"><text x="486.3" y="18.9" textLength="68.9" lengthAdjust="spacingAndGlyphs">Train on synthetic, test on real (TSTR)</text><text x="486.3" y="32.3" textLength="59.5" lengthAdjust="spacingAndGlyphs">Train on real, test on real (TRTR)</text></g><g font-family="Liberation Serif, serif" fill="#383838" font-size="13.0"><text x="152.0" y="263.85" textLength="67.3" lengthAdjust="spacingAndGlyphs">Snapshot, <tspan font-style="italic">n</tspan></text><text x="459.5" y="263.85" textLength="154.4" lengthAdjust="spacingAndGlyphs">Prediction relative error, <tspan font-style="italic">P</tspan><tspan font-style="italic" font-size="9" dy="2">e</tspan></text><text transform="translate(9.4,184.0) rotate(-90)" font-size="13.3" textLength="125.6" lengthAdjust="spacingAndGlyphs">Prediction accuracy, <tspan font-style="italic">A</tspan></text><text transform="translate(365.4,162.6) rotate(-90)" font-size="13.5" textLength="82.4" lengthAdjust="spacingAndGlyphs">Probability, <tspan font-style="italic">P</tspan><tspan font-style="italic" font-size="8.5" dy="1.8">d</tspan></text></g><g font-family="Liberation Sans, sans-serif" fill="#000" font-size="18.8"><text x="167.5" y="289.75">(a)</text><text x="518.9" y="289.75">(b)</text></g>
</svg></body></html>
